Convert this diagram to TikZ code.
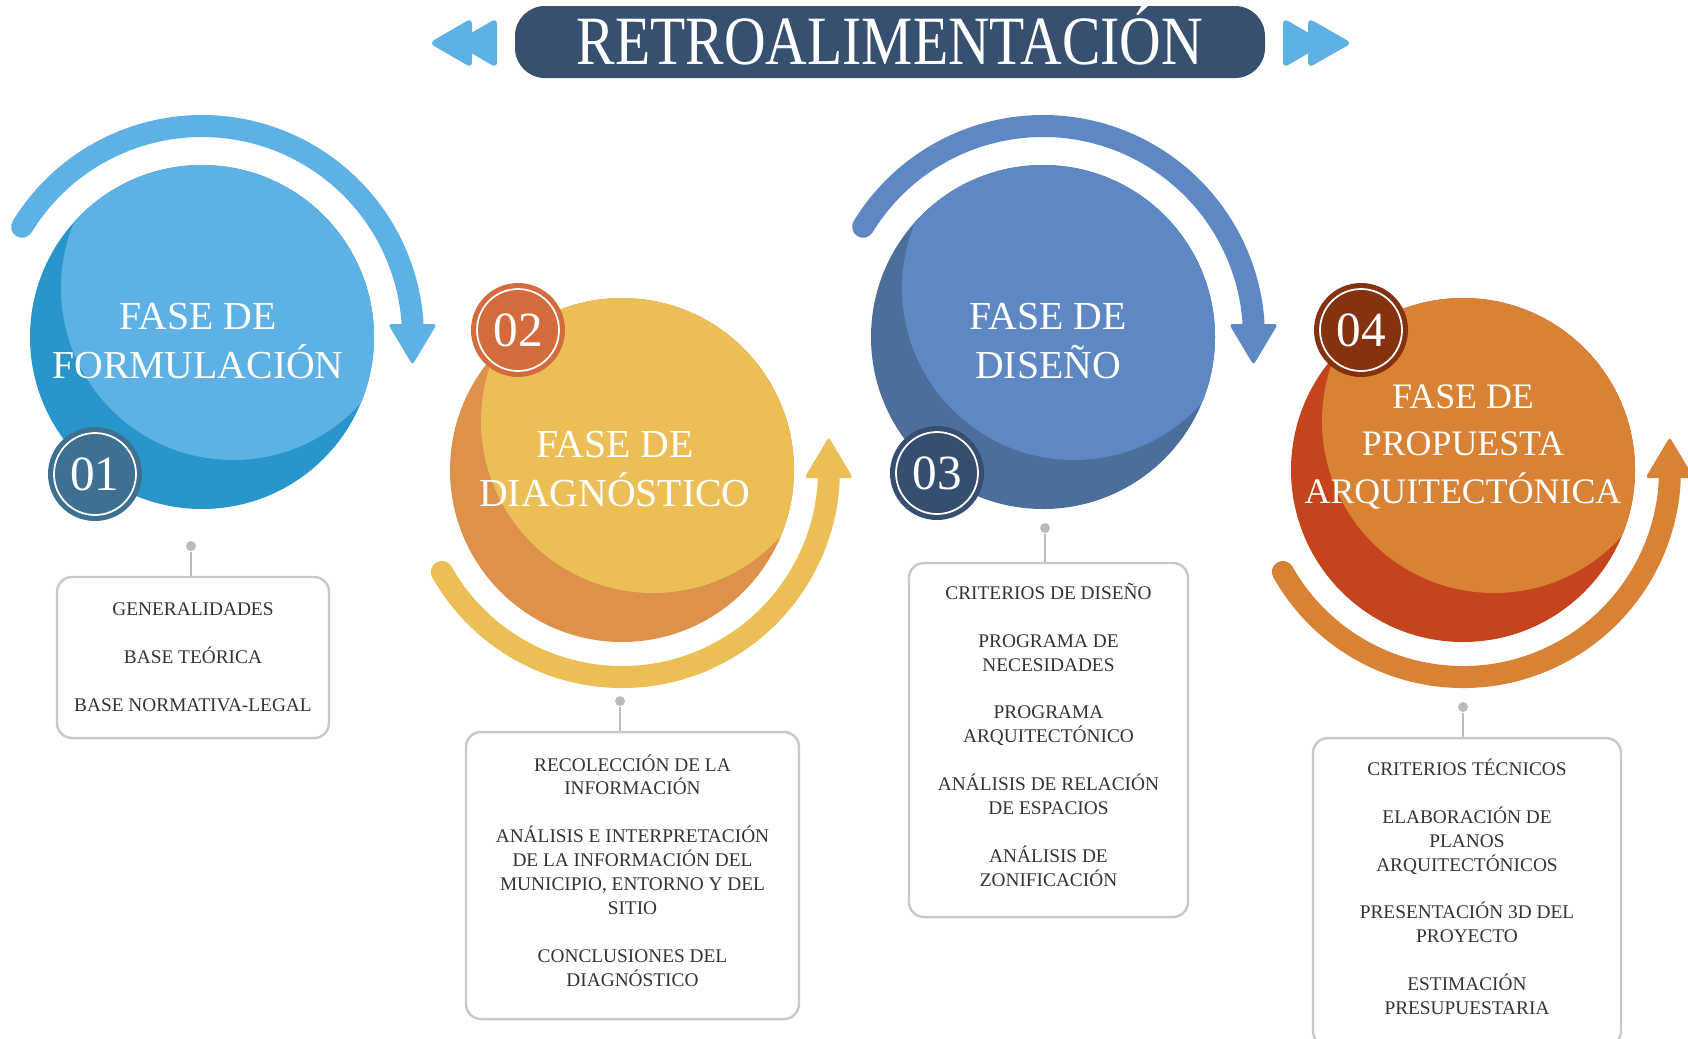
\documentclass[tikz,border=0pt]{standalone}
\usepackage{fontspec}
\setmainfont{Liberation Serif}
\usetikzlibrary{positioning,arrows.meta}
\definecolor{titulo}{HTML}{38506F}
\definecolor{celeste}{HTML}{5DB1E4}
\definecolor{azulosc}{HTML}{2896CA}
\definecolor{azulnum}{HTML}{3E7191}
\definecolor{amarillo}{HTML}{EBBF55}
\definecolor{naranjaosc}{HTML}{DD914A}
\definecolor{naranjanum}{HTML}{D46B3D}
\definecolor{azul}{HTML}{5D88C4}
\definecolor{azulgris}{HTML}{4B6E9A}
\definecolor{marino}{HTML}{364F70}
\definecolor{naranja}{HTML}{D88236}
\definecolor{rojizo}{HTML}{C6441D}
\definecolor{cafe}{HTML}{843210}
\definecolor{borde}{HTML}{C9C9C9}
\definecolor{enlace}{HTML}{BBBBBB}
\definecolor{texto}{HTML}{333333}
\newcommand{\bajo}{\rule[-3pt]{0pt}{0pt}}

\begin{document}
\begin{tikzpicture}[
    bola/.style={circle, fill=#1, minimum size=3.44cm, inner sep=0pt},
    fase/.style={text=white, align=center, font=\fontsize{11.3}{13.8}\selectfont},
    numero/.style={circle, fill=#1, minimum size=9.4mm, inner sep=0pt, text=white,
        font=\fontsize{14}{14}\selectfont,
        path picture={\draw[white, line width=0.5pt] (path picture bounding box.center) circle (4.1mm);}},
    flecha/.style={draw=#1, line width=2.2mm, line cap=round,
        -{Triangle[round, width=4.8mm, length=4.1mm, line width=1pt]}},
    caja/.style={draw=borde, line width=0.7pt, rounded corners=1.5mm, align=center,
        text=texto, font=\fontsize{5.5}{6.8}\selectfont},
    punto/.style={circle, fill=enlace, minimum size=1mm, inner sep=0pt},
    enlace/.style={draw=enlace, line width=0.75pt}
  ]
  \useasboundingbox (0,0) rectangle (16.88,-10.38);

  % titulo
  \node (tit) [fill=titulo, rounded corners=3mm, minimum width=7.5cm, minimum height=0.72cm,
      text=white, font=\fontsize{16.4}{16.4}\selectfont, text height=13pt, text depth=0pt]
      at (8.90,-0.42) {\scalebox{1}[1.2]{RETROALIMENTACIÓN}};
  \fill[celeste, rounded corners=0.6mm] (4.72,-0.18) -- (4.29,-0.43) -- (4.72,-0.68) -- cycle;
  \fill[celeste, rounded corners=0.6mm] (4.97,-0.18) -- (4.54,-0.43) -- (4.97,-0.68) -- cycle;
  \fill[celeste, rounded corners=0.6mm] (12.83,-0.18) -- (13.26,-0.43) -- (12.83,-0.68) -- cycle;
  \fill[celeste, rounded corners=0.6mm] (13.08,-0.18) -- (13.52,-0.43) -- (13.08,-0.68) -- cycle;

  % fase 1
  \node (c1) [bola=azulosc] at (2.02,-3.37) {};
  \begin{scope}
    \clip (c1.center) circle (1.72);
    \fill[celeste] ([shift={(0.31,0.49)}]c1.center) circle (1.72);
  \end{scope}
  \node (t1) [fase] at (1.98,-3.41) {FASE DE\\FORMULACIÓN};
  \node (n1) [numero=azulnum] at (0.95,-4.74) {01};
  \draw[flecha=celeste] ([shift={(148.5:2.11)}]c1.center) arc[start angle=148.5, end angle=4, radius=2.11] -- ++(0,-0.41);

  % fase 2
  \node (c2) [bola=naranjaosc] at (6.22,-4.70) {};
  \begin{scope}
    \clip (c2.center) circle (1.72);
    \fill[amarillo] ([shift={(0.31,0.49)}]c2.center) circle (1.72);
  \end{scope}
  \node (t2) [fase] at (6.15,-4.69) {FASE DE\\DIAGNÓSTICO};
  \node (n2) [numero=naranjanum] at (5.18,-3.30) {02};
  \draw[flecha=amarillo] ([shift={(209.5:2.07)}]c2.center) arc[start angle=209.5, end angle=357, radius=2.07] -- ++(0,0.42);

  % fase 3
  \node (c3) [bola=azulgris] at (10.43,-3.37) {};
  \begin{scope}
    \clip (c3.center) circle (1.72);
    \fill[azul] ([shift={(0.31,0.49)}]c3.center) circle (1.72);
  \end{scope}
  \node (t3) [fase] at (10.48,-3.41) {FASE DE\\DISEÑO};
  \node (n3) [numero=marino] at (9.37,-4.73) {03};
  \draw[flecha=azul] ([shift={(148.5:2.11)}]c3.center) arc[start angle=148.5, end angle=4, radius=2.11] -- ++(0,-0.41);

  % fase 4
  \node (c4) [bola=rojizo] at (14.63,-4.70) {};
  \begin{scope}
    \clip (c4.center) circle (1.72);
    \fill[naranja] ([shift={(0.31,0.49)}]c4.center) circle (1.72);
  \end{scope}
  \node (t4) [fase, font=\fontsize{10.2}{13.6}\selectfont] at (14.63,-4.47) {FASE DE\\PROPUESTA\\ARQUITECTÓNICA};
  \node (n4) [numero=cafe] at (13.61,-3.30) {04};
  \draw[flecha=naranja] ([shift={(209.5:2.07)}]c4.center) arc[start angle=209.5, end angle=357, radius=2.07] -- ++(0,0.42);

  % contenidos
  \node (b1) [caja, minimum width=2.72cm, minimum height=1.61cm] at (1.93,-6.575)
      {GENERALIDADES\\[6.8pt]BASE TEÓRICA\\[6.8pt]BASE NORMATIVA-LEGAL};
  \node (b2) [caja, minimum width=3.33cm, minimum height=2.87cm] at (6.325,-8.755)
      {RECOLECCIÓN DE LA\\INFORMACIÓN\\[6.8pt]ANÁLISIS E INTERPRETACIÓN\\DE LA INFORMACIÓN DEL\\MUNICIPIO, ENTORNO Y DEL\\SITIO\\[6.8pt]CONCLUSIONES DEL\\DIAGNÓSTICO\bajo};
  \node (b3) [caja, minimum width=2.79cm, minimum height=3.54cm] at (10.485,-7.40)
      {CRITERIOS DE DISEÑO\\[6.8pt]PROGRAMA DE\\NECESIDADES\\[6.8pt]PROGRAMA\\ARQUITECTÓNICO\\[6.8pt]ANÁLISIS DE RELACIÓN\\DE ESPACIOS\\[6.8pt]ANÁLISIS DE\\ZONIFICACIÓN\bajo};
  \node (b4) [caja, minimum width=3.08cm, minimum height=3.08cm] at (14.67,-8.92)
      {CRITERIOS TÉCNICOS\\[6.8pt]ELABORACIÓN DE\\PLANOS\\ARQUITECTÓNICOS\\[6.8pt]PRESENTACIÓN 3D DEL\\PROYECTO\\[6.8pt]ESTIMACIÓN\\PRESUPUESTARIA\bajo};

  \node (d1) [punto, above=2.4mm of b1.north, xshift=-0.2mm] {};
  \node (d2) [punto, above=2.4mm of b2.north, xshift=-1.25mm] {};
  \node (d3) [punto, above=2.8mm of b3.north, xshift=-0.35mm] {};
  \node (d4) [punto, above=2.4mm of b4.north, xshift=-0.4mm] {};
  \draw[enlace] (d1) -- (d1 |- b1.north);
  \draw[enlace] (d2) -- (d2 |- b2.north);
  \draw[enlace] (d3) -- (d3 |- b3.north);
  \draw[enlace] (d4) -- (d4 |- b4.north);
\end{tikzpicture}
\end{document}
